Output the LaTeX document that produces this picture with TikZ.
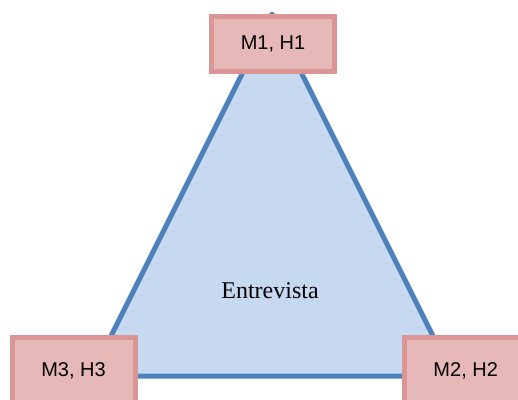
\documentclass[tikz,border=0pt]{standalone}
\usepackage{fontspec}
\setmainfont{Liberation Serif}
\newfontfamily\boxfont{Liberation Sans}
\definecolor{triFill}{HTML}{C6D9F1}
\definecolor{triLine}{HTML}{4F81BD}
\definecolor{boxFill}{HTML}{E6B9B8}
\definecolor{boxLine}{HTML}{D99694}
\begin{document}
\begin{tikzpicture}[x=0.75pt,y=-0.75pt,
  rolebox/.style={draw=boxLine,fill=boxFill,line width=3.75pt,
    minimum width=123*0.75pt,minimum height=55*0.75pt,inner sep=0pt,
    font=\boxfont\fontsize{15}{18}\selectfont},
  tallbox/.style={rolebox,minimum height=70*0.75pt},
  edge/.style={draw=triLine,fill=triFill,line width=3.75pt,line join=round}]
\useasboundingbox (0,0) rectangle (518,400);
\clip (0,0) rectangle (518,400);
% triangle corners
\coordinate (top) at (272,14);
\coordinate (left) at (91,376);
\coordinate (right) at (453,376);
\path[edge] (top) -- (left) -- (right) -- cycle;
\node[font=\fontsize{18}{21}\selectfont] (label) at (270,291) {Entrevista};
% participant boxes
\node[rolebox] (m1) at (273,44) {M1, H1};
\node[tallbox] (m3) at (73.5,372.5) {\raisebox{4.5pt}{M3, H3}};
\node[tallbox] (m2) at (465.7,372.5) {\raisebox{5pt}{M2, H2}};
\end{tikzpicture}
\end{document}
